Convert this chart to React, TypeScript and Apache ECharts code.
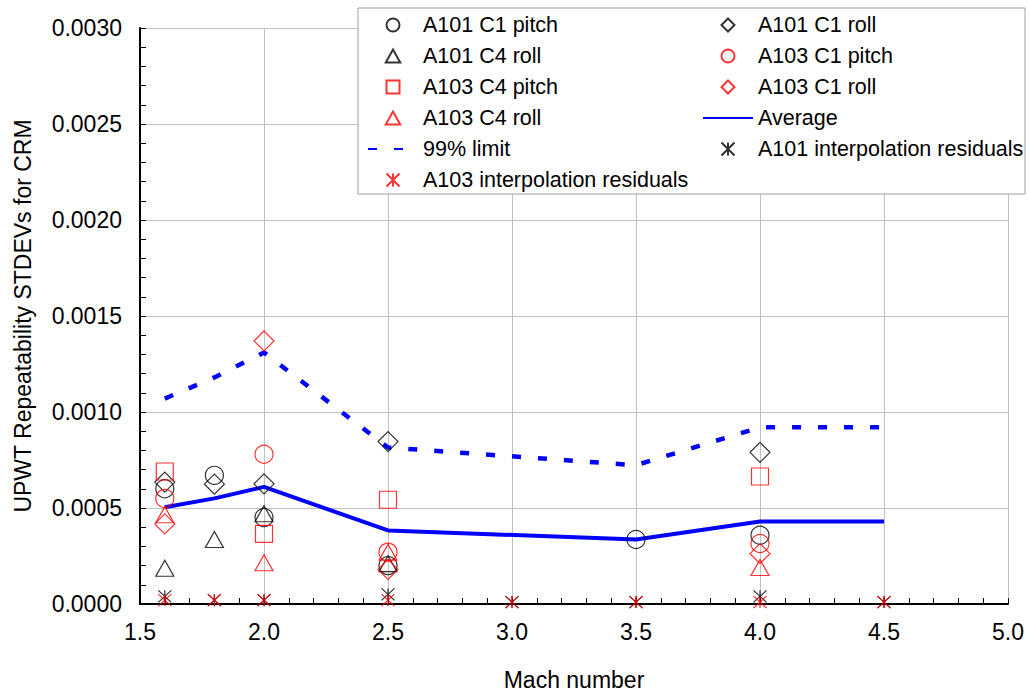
import React, { useEffect, useRef } from "react";
import * as echarts from "echarts";

// Mach numbers and values per series
const a101C1PitchX = [1.6, 1.8, 2.0, 2.5, 3.5, 4.0];
const a101C1PitchY = [0.0006, 0.00067, 0.00045, 0.0002, 0.000336, 0.000358];

const a101C1RollX = [1.6, 1.8, 2.0, 2.5, 4.0];
const a101C1RollY = [0.000635, 0.000624, 0.000626, 0.000846, 0.00079];

const a101C4RollX = [1.6, 1.8, 2.0, 2.5];
const a101C4RollY = [0.000186, 0.000336, 0.00047, 0.00021];

const a103C1PitchX = [1.6, 2.0, 2.5, 4.0];
const a103C1PitchY = [0.00055, 0.00078, 0.00027, 0.000315];

const a103C4PitchX = [1.6, 2.0, 2.5, 4.0];
const a103C4PitchY = [0.00069, 0.000365, 0.000543, 0.000664];

const a103C1RollX = [1.6, 2.0, 2.5, 4.0];
const a103C1RollY = [0.000417, 0.00137, 0.00018, 0.000262];

const a103C4RollX = [1.6, 2.0, 2.5, 4.0];
const a103C4RollY = [0.000465, 0.000215, 0.00027, 0.00019];

const lineX = [1.6, 1.8, 2.0, 2.5, 3.5, 4.0, 4.5];
const averageY = [0.000504, 0.00055, 0.00061, 0.000383, 0.000336, 0.00043, 0.00043];
const limit99Y = [0.00107, 0.00118, 0.00131, 0.000815, 0.000723, 0.00092, 0.00092];

const residX = [1.6, 1.8, 2.0, 2.5, 3.0, 3.5, 4.0, 4.5];
const a101ResidY = [0.00004, 0.00002, 0.00002, 0.00005, 0.00001, 0.00001, 0.00004, 0.00001];
const a103ResidY = [0.00002, 0.00002, 0.00002, 0.00002, 0.00001, 0.00001, 0.00001, 0.00001];

const legendCol1 = [
  "A101 C1 pitch",
  "A101 C4 roll",
  "A103 C4 pitch",
  "A103 C4 roll",
  "99% limit",
  "A103 interpolation residuals",
];
const legendCol2 = [
  "A101 C1 roll",
  "A103 C1 pitch",
  "A103 C1 roll",
  "Average",
  "A101 interpolation residuals",
];

const FONT = "Liberation Sans, Arial, sans-serif";
const BLACK = "#000000";
const RED = "#ff0000";
const BLUE = "#0000ff";
const ASTERISK = "path://M0,-10L0,10M-10,-10L10,10M-10,10L10,-10";
const ICONS: Record<string, string> = {
  circle: "path://M0,-10A10,10,0,1,1,0,10A10,10,0,1,1,0,-10Z",
  triangle: "path://M0,-10L10,8L-10,8Z",
  rect: "path://M-10,-10L10,-10L10,10L-10,10Z",
  diamond: "path://M0,-10L10,0L0,10L-10,0Z",
  asterisk: ASTERISK,
};
const legendIcon: Record<string, string> = {
  "A101 C1 pitch": ICONS.circle,
  "A101 C4 roll": ICONS.triangle,
  "A103 C4 pitch": ICONS.rect,
  "A103 C4 roll": ICONS.triangle,
  "A103 interpolation residuals": ICONS.asterisk,
  "A101 C1 roll": ICONS.diamond,
  "A103 C1 pitch": ICONS.circle,
  "A103 C1 roll": ICONS.diamond,
  "A101 interpolation residuals": ICONS.asterisk,
};

const zip = (xs: number[], ys: number[]) => xs.map((x, i) => [x, ys[i]]);

const marker = (
  name: string,
  xs: number[],
  ys: number[],
  symbol: string,
  size: number | number[],
  color: string
) => ({
  name,
  type: "scatter",
  data: zip(xs, ys),
  symbol,
  symbolSize: size,
  itemStyle: { color: "rgba(0,0,0,0)", borderColor: color, borderWidth: 1.2 },
  z: 3,
});

const legendData = (names: string[]) =>
  names.map((n) => (legendIcon[n] ? { name: n, icon: legendIcon[n] } : { name: n }));

export default function App() {
  const ref = useRef<HTMLDivElement>(null);
  useEffect(() => {
    if (!ref.current) return;
    const chart = echarts.init(ref.current, undefined, { renderer: "svg" });
    const legendBase = {
      orient: "vertical",
      top: 14,
      padding: 0,
      itemWidth: 50,
      itemHeight: 13,
      itemGap: 9,
      z: 20,
      symbolKeepAspect: true,
      textStyle: { fontSize: 21.5, color: BLACK, fontFamily: FONT, lineHeight: 21.5 },
    };
    const axisText = { fontSize: 23, color: BLACK, fontFamily: FONT };
    chart.setOption({
      animation: false,
      backgroundColor: "#ffffff",
      textStyle: { fontFamily: FONT },
      grid: { left: 140, right: 21, top: 28, bottom: 90 },
      graphic: [
        {
          type: "rect",
          z: 10,
          shape: { x: 358, y: 8, width: 667, height: 186 },
          style: { fill: "#ffffff", stroke: "#a0a0a0", lineWidth: 1 },
        },
      ],
      legend: [
        { ...legendBase, left: 367, data: legendData(legendCol1) },
        { ...legendBase, left: 702, data: legendData(legendCol2) },
      ],
      xAxis: {
        type: "value",
        min: 1.5,
        max: 5.0,
        interval: 0.5,
        name: "Mach number",
        nameLocation: "middle",
        nameGap: 64,
        nameTextStyle: axisText,
        axisLine: { onZero: false, lineStyle: { color: BLACK, width: 2 } },
        axisTick: { inside: true, length: 6, lineStyle: { color: BLACK } },
        minorTick: { show: true, splitNumber: 5, length: 6, lineStyle: { color: BLACK } },
        axisLabel: {
          ...axisText,
          margin: 16,
          formatter: (v: number) => v.toFixed(1),
        },
        splitLine: { show: true, lineStyle: { color: "#c0c0c0", width: 1 } },
      },
      yAxis: {
        type: "value",
        min: 0,
        max: 0.003,
        interval: 0.0005,
        name: "UPWT Repeatability STDEVs for CRM",
        nameLocation: "middle",
        nameGap: 106,
        nameTextStyle: axisText,
        axisLine: { lineStyle: { color: BLACK, width: 2 } },
        axisTick: { inside: true, length: 6, lineStyle: { color: BLACK } },
        minorTick: { show: true, splitNumber: 5, length: 6, lineStyle: { color: BLACK } },
        axisLabel: {
          ...axisText,
          margin: 18,
          formatter: (v: number) => v.toFixed(4),
        },
        splitLine: { show: true, lineStyle: { color: "#c0c0c0", width: 1 } },
      },
      series: [
        {
          name: "Average",
          type: "line",
          data: zip(lineX, averageY),
          symbol: "none",
          showSymbol: false,
          lineStyle: { color: BLUE, width: 4 },
          itemStyle: { color: "rgba(0,0,0,0)", borderWidth: 0 },
          z: 2,
        },
        {
          name: "99% limit",
          type: "line",
          data: zip(lineX, limit99Y),
          symbol: "none",
          showSymbol: false,
          lineStyle: { color: BLUE, width: 4.5, type: [9, 17] },
          itemStyle: { color: "rgba(0,0,0,0)", borderWidth: 0 },
          z: 2,
        },
        marker("A101 C1 pitch", a101C1PitchX, a101C1PitchY, "circle", 18, BLACK),
        marker("A101 C1 roll", a101C1RollX, a101C1RollY, "diamond", 20, BLACK),
        marker("A101 C4 roll", a101C4RollX, a101C4RollY, "triangle", [18, 16], BLACK),
        marker("A103 C1 pitch", a103C1PitchX, a103C1PitchY, "circle", 18, RED),
        marker("A103 C4 pitch", a103C4PitchX, a103C4PitchY, "rect", 17, RED),
        marker("A103 C1 roll", a103C1RollX, a103C1RollY, "diamond", 20, RED),
        marker("A103 C4 roll", a103C4RollX, a103C4RollY, "triangle", [18, 16], RED),
        marker("A101 interpolation residuals", residX, a101ResidY, ASTERISK, [13, 12], BLACK),
        marker("A103 interpolation residuals", residX, a103ResidY, ASTERISK, [13, 12], RED),
      ],
    });
    return () => chart.dispose();
  }, []);
  return (
    <div
      ref={ref}
      style={{ position: "fixed", left: 0, top: 0, width: 1029, height: 696, background: "#fff" }}
    />
  );
}
